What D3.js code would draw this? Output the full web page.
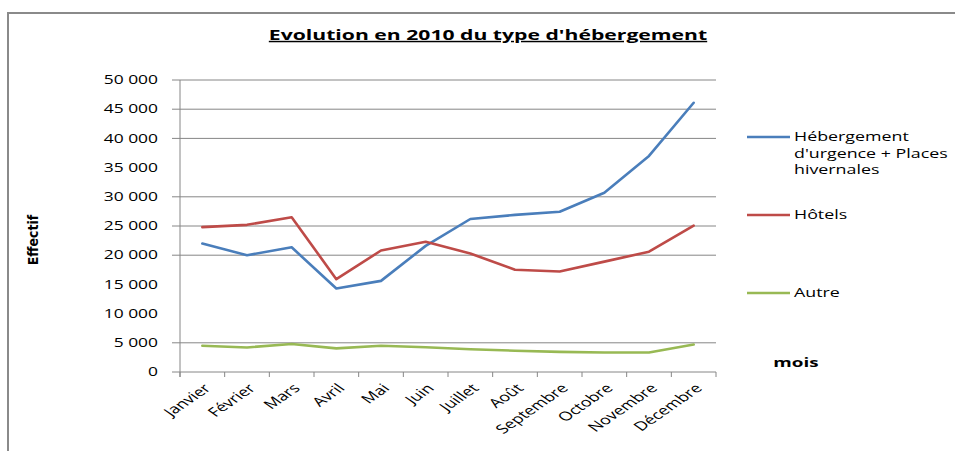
<!DOCTYPE html>
<html>
<head>
<meta charset="utf-8">
<script src="https://cdn.jsdelivr.net/npm/d3@7"></script>
<style>
body { margin: 0; background: #fff; }
text { font-family: 'Open Sans', sans-serif; fill: #000; }
</style>
</head>
<body>
<svg id="chart" width="955" height="451"></svg>
<script>
let months = ['Janvier', 'Février', 'Mars', 'Avril', 'Mai', 'Juin', 'Juillet', 'Août', 'Septembre', 'Octobre', 'Novembre', 'Décembre']
let hebergement = [22000, 20000, 21350, 14300, 15600, 21600, 26200, 26900, 27450, 30700, 37000, 46100]
let hotels = [24800, 25200, 26500, 15900, 20800, 22300, 20300, 17500, 17200, 18900, 20600, 25050]
let autre = [4500, 4200, 4800, 4050, 4500, 4250, 3900, 3650, 3450, 3350, 3350, 4700]
let yTicks = [0, 5000, 10000, 15000, 20000, 25000, 30000, 35000, 40000, 45000, 50000]
let gridValues = [5000, 20000, 25000, 30000, 40000, 45000, 50000]
let seriesNames = [['Hébergement', "d'urgence + Places", 'hivernales'], ['Hôtels'], ['Autre']]
let seriesColors = ['#4a7ebb', '#be4b48', '#98b954']

let svg = d3.select('#chart')
let sx = 1.45   // the picture is stretched sideways, text too
let grey = '#868686'

let fr = d3.formatLocale({ decimal: ',', thousands: ' ', grouping: [3], currency: ['', ''] })
let fmt = fr.format(',')

let x = d3.scaleBand().domain(months).range([180, 716])
let y = d3.scaleLinear().domain([0, 50000]).range([372, 80])

// outer frame
svg.append('rect')
    .attr('x', 8).attr('y', 13)
    .attr('width', 1000).attr('height', 500)
    .attr('fill', 'none').attr('stroke', '#8a8a8a').attr('stroke-width', 2)

// title
svg.append('text')
    .attr('transform', 'translate(488, 40) scale(' + sx + ',1)')
    .attr('text-anchor', 'middle')
    .style('font-weight', 'bold')
    .style('font-size', '14.6px')
    .style('text-decoration', 'underline')
    .text("Evolution en 2010 du type d'hébergement")

// grid lines with their tick (some are missing in the original)
svg.selectAll('line.grid')
    .data(gridValues)
    .enter().append('line')
    .attr('class', 'grid')
    .attr('x1', 172).attr('x2', 716)
    .attr('y1', d => y(d)).attr('y2', d => y(d))
    .attr('stroke', grey).attr('stroke-width', 1)

// y axis
svg.append('line')
    .attr('x1', 180).attr('x2', 180).attr('y1', 80).attr('y2', 377)
    .attr('stroke', grey)
svg.selectAll('text.ylabel')
    .data(yTicks)
    .enter().append('text')
    .attr('class', 'ylabel')
    .attr('transform', d => 'translate(158,' + y(d) + ') scale(' + sx + ',1)')
    .attr('text-anchor', 'end')
    .attr('dy', '0.35em')
    .style('font-size', '12px')
    .text(d => fmt(d))

// x axis
svg.append('line')
    .attr('x1', 172).attr('x2', 716).attr('y1', 372).attr('y2', 372)
    .attr('stroke', grey)
svg.selectAll('line.xtick')
    .data(months.map(m => x(m)).concat([x.range()[1]]))
    .enter().append('line')
    .attr('class', 'xtick')
    .attr('x1', d => d).attr('x2', d => d)
    .attr('y1', 372).attr('y2', 377)
    .attr('stroke', grey)
svg.selectAll('text.xlabel')
    .data(months)
    .enter().append('text')
    .attr('class', 'xlabel')
    .attr('transform', d => 'translate(' + (x(d) + x.bandwidth() / 2 + 5) + ',386) scale(' + sx + ',1) rotate(-45)')
    .attr('text-anchor', 'end')
    .attr('dy', '0.35em')
    .style('font-size', '12.5px')
    .text(d => d)

// series
let allSeries = [hebergement, hotels, autre]
let line = d3.line()
    .x((d, i) => x(months[i]) + x.bandwidth() / 2)
    .y(d => y(d))

svg.selectAll('path.series')
    .data(allSeries)
    .enter().append('path')
    .attr('class', 'series')
    .attr('d', d => line(d))
    .attr('fill', 'none')
    .attr('stroke', (d, i) => seriesColors[i])
    .attr('stroke-width', 2.6)
    .attr('stroke-linejoin', 'round')
    .attr('stroke-linecap', 'round')

// legend
let legendY = [137, 215, 293]
let legend = svg.selectAll('g.legend')
    .data(seriesNames)
    .enter().append('g')
    .attr('class', 'legend')
    .attr('transform', (d, i) => 'translate(747,' + legendY[i] + ')')
legend.append('line')
    .attr('x1', 0).attr('x2', 43)
    .attr('stroke', (d, i) => seriesColors[i])
    .attr('stroke-width', 2.6)
legend.append('text')
    .attr('transform', 'translate(47,0) scale(' + sx + ',1)')
    .style('font-size', '12.3px')
    .selectAll('tspan')
    .data(d => d)
    .enter().append('tspan')
    .attr('x', 0)
    .attr('y', (d, i) => i * 16.5)
    .attr('dy', '0.35em')
    .text(d => d)

// axis titles
svg.append('text')
    .attr('transform', 'translate(38,240) rotate(-90)')
    .attr('text-anchor', 'middle')
    .style('font-family', "'DejaVu Sans'")
    .style('font-stretch', 'condensed')
    .style('font-weight', 'bold')
    .style('font-size', '14px')
    .text('Effectif')

svg.append('text')
    .attr('transform', 'translate(796,362) scale(' + sx + ',1)')
    .attr('text-anchor', 'middle')
    .attr('dy', '0.35em')
    .style('font-weight', 'bold')
    .style('font-size', '13px')
    .text('mois')
</script>
</body>
</html>
